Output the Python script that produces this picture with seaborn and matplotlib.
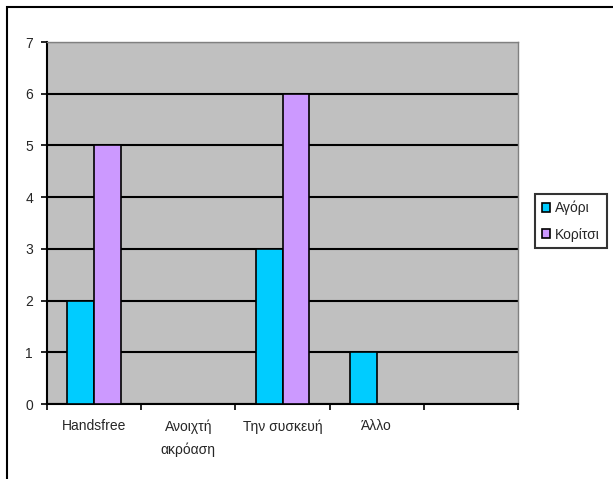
import matplotlib
matplotlib.use("Agg")
import matplotlib.pyplot as plt
from matplotlib.patches import Rectangle
import seaborn as sns
import pandas as pd

categories = ["Handsfree", "Ανοιχτή\nακρόαση", "Την συσκευή", "Άλλο"]
series_names = ["Αγόρι", "Κορίτσι"]
boys = [2, 0, 3, 1]
girls = [5, 0, 6, 0]
y_ticks = [0, 1, 2, 3, 4, 5, 6, 7]
colors = ["#00CCFF", "#CC99FF"]

df = pd.DataFrame({
    "category": categories * 2,
    "series": [series_names[0]] * len(categories) + [series_names[1]] * len(categories),
    "value": boys + girls,
})

sns.set_theme(style="white")
plt.rcParams["font.family"] = ["Liberation Sans", "DejaVu Sans"]

W, H = 613, 479
fig = plt.figure(figsize=(W / 100, H / 100), dpi=100)
ax = fig.add_axes([47 / W, (H - 404) / H, (518 - 47) / W, (404 - 42) / H])
ax.set_facecolor("#C0C0C0")

sns.barplot(data=df, x="category", y="value", hue="series", order=categories,
            hue_order=series_names, palette=colors, saturation=1, width=0.57, gap=0,
            edgecolor="black", linewidth=1.2, ax=ax, legend=True, zorder=3)

# five category slots, the last one left empty
ax.set_xlim(-0.5, 4.5)
ax.set_ylim(0, 7)
ax.set_yticks(y_ticks)
ax.yaxis.grid(True, color="black", linewidth=1.5, zorder=1)
ax.set_axisbelow(True)

ax.set_xticks([i - 0.5 for i in range(6)])
ax.set_xticklabels([])
ax.set_xticks(range(len(categories)), minor=True)
ax.set_xticklabels(categories, minor=True, fontsize=10, linespacing=1.8, va="top")
ax.tick_params(axis="x", which="minor", length=0, pad=11)
ax.tick_params(axis="x", which="major", length=4, width=1.2, color="black", direction="out", bottom=True)
ax.tick_params(axis="y", length=4, width=1.2, color="black", direction="out", left=True, labelsize=10, pad=6)
ax.set_xlabel("")
ax.set_ylabel("")

for side in ["top", "right"]:
    ax.spines[side].set_color("#808080")
    ax.spines[side].set_linewidth(1.0)
for side in ["left", "bottom"]:
    ax.spines[side].set_color("black")
    ax.spines[side].set_linewidth(1.5)

handles, labels = ax.get_legend_handles_labels()
ax.legend_.remove()
leg = fig.legend(handles, labels, loc="center", bbox_to_anchor=(571 / W, 1 - 221 / H),
                 fontsize=10, frameon=True, fancybox=False, edgecolor="black",
                 handlelength=0.6, handleheight=0.6, handletextpad=0.35,
                 borderpad=0.5, labelspacing=0.9, borderaxespad=0)
leg.get_frame().set_linewidth(1.5)
for h in leg.legend_handles:
    h.set_edgecolor("black")
    h.set_linewidth(1.2)

# chart area border
fig.patches.append(Rectangle((7 / W, -0.1), 1.2, 1 - 7 / H + 0.1, transform=fig.transFigure,
                             fill=False, edgecolor="black", linewidth=1.5))

fig.savefig("out.png", dpi=100)
